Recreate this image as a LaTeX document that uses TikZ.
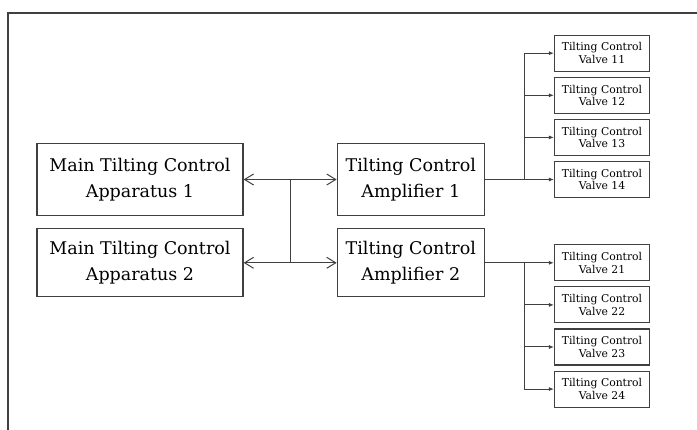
\documentclass[tikz,border=0pt]{standalone}
\usepackage{fontspec}
\setmainfont{DejaVu Serif}
\usepackage{tikz}
\usetikzlibrary{positioning, arrows.meta, calc}

\begin{document}
\begin{tikzpicture}[x=1pt, y=-1pt, line width=1pt, draw=black!75,
    bigbox/.style={draw, line width=1.3pt, minimum width=206pt, minimum height=72pt,
        inner sep=2pt, align=center, font=\fontsize{17.5}{26}\selectfont},
    ampbox/.style={bigbox, minimum width=147pt},
    valve/.style={draw, line width=1.1pt, minimum width=95pt, minimum height=36pt,
        inner sep=1pt, align=center, font=\fontsize{10.8}{12.5}\selectfont},
    link/.style={{Straight Barb[length=9pt,width=11pt]}-{Straight Barb[length=9pt,width=11pt]}},
    feed/.style={-{Latex[length=5pt,width=4pt]}}]
    \useasboundingbox (0,0) rectangle (697,430);

    % Frame
    \draw[line width=1.2pt] (8,430) -- (8,13) -- (697,13);

    % Main apparatus
    \node[bigbox] (main1) at (140,179.5) {Main Tilting Control\\Apparatus 1};
    \node[bigbox, minimum height=68pt, below=12pt of main1] (main2) {Main Tilting Control\\Apparatus 2};

    % Amplifiers
    \node[ampbox, right=93pt of main1] (amp1) {Tilting Control\\Amplifier 1};
    \node[ampbox, minimum height=68pt, below=12pt of amp1] (amp2) {Tilting Control\\Amplifier 2};

    % Valves
    \node[valve, right=69pt of amp1] (v14) {Tilting Control\\Valve 14};
    \node[valve, above=5pt of v14] (v13) {Tilting Control\\Valve 13};
    \node[valve, above=5pt of v13] (v12) {Tilting Control\\Valve 12};
    \node[valve, above=5pt of v12] (v11) {Tilting Control\\Valve 11};
    \node[valve, right=69pt of amp2] (v21) {Tilting Control\\Valve 21};
    \node[valve, below=5pt of v21] (v22) {Tilting Control\\Valve 22};
    \node[valve, below=5pt of v22] (v23) {Tilting Control\\Valve 23};
    \node[valve, below=5pt of v23] (v24) {Tilting Control\\Valve 24};

    % Arrows
    \draw[link] (main1) -- (amp1);
    \draw[link] (main2) -- (amp2);
    \coordinate (tie1) at ($(main1.east)!0.5!(amp1.west)$);
    \coordinate (tie2) at ($(main2.east)!0.5!(amp2.west)$);
    \draw (tie1) -- (tie2);

    \coordinate (busA) at ($(amp1.east)!0.58!(v14.west)$);
    \coordinate (busB) at ($(amp2.east)!0.58!(v21.west)$);
    \draw[feed] (amp1) -- (v14);
    \foreach \v in {v11, v12, v13} {
        \draw[feed] (busA) |- (\v);
    }
    \draw[feed] (amp2) -- (v21);
    \foreach \v in {v22, v23, v24} {
        \draw[feed] (busB) |- (\v);
    }
\end{tikzpicture}
\end{document}
